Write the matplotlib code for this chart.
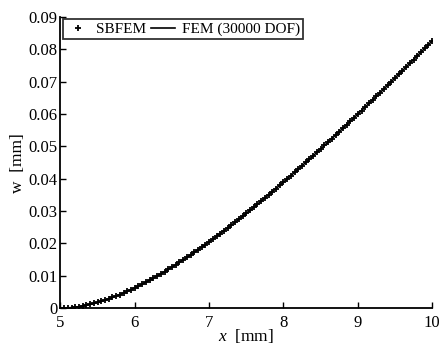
import numpy as np
import matplotlib
matplotlib.use('Agg')
import matplotlib.pyplot as plt

plt.rcParams['font.family'] = ['Liberation Serif', 'DejaVu Serif']
plt.rcParams['mathtext.fontset'] = 'custom'
plt.rcParams['mathtext.it'] = 'Liberation Serif:italic'
plt.rcParams['mathtext.rm'] = 'Liberation Serif'

# deflection w [mm] along x [mm] (step 0.05 mm)
x = np.linspace(5, 10, 101)
w = [0.00000, 0.00002, 0.00008, 0.00017, 0.00031, 0.00047, 0.00067, 0.00090, 0.00116, 0.00145,
     0.00177, 0.00211, 0.00248, 0.00288, 0.00330, 0.00374, 0.00421, 0.00469, 0.00520, 0.00573,
     0.00628, 0.00685, 0.00743, 0.00803, 0.00865, 0.00929, 0.00994, 0.01061, 0.01129, 0.01199,
     0.01270, 0.01343, 0.01416, 0.01492, 0.01568, 0.01646, 0.01724, 0.01804, 0.01885, 0.01967,
     0.02051, 0.02135, 0.02220, 0.02306, 0.02393, 0.02481, 0.02570, 0.02660, 0.02751, 0.02842,
     0.02935, 0.03028, 0.03122, 0.03216, 0.03312, 0.03408, 0.03505, 0.03602, 0.03700, 0.03799,
     0.03898, 0.03998, 0.04099, 0.04200, 0.04302, 0.04404, 0.04507, 0.04611, 0.04715, 0.04819,
     0.04924, 0.05030, 0.05136, 0.05242, 0.05349, 0.05457, 0.05564, 0.05673, 0.05781, 0.05890,
     0.06000, 0.06110, 0.06220, 0.06331, 0.06442, 0.06553, 0.06665, 0.06777, 0.06890, 0.07003,
     0.07116, 0.07230, 0.07343, 0.07458, 0.07572, 0.07687, 0.07802, 0.07917, 0.08033, 0.08149,
     0.08265]

fig = plt.figure(figsize=(4.41, 3.49), dpi=100)
ax = fig.add_axes([0.137, 0.117, 0.843, 0.834])

ax.plot(x, w, '+', color='k', markersize=5, markeredgewidth=1.3, label='SBFEM')
ax.plot(x, w, '-', color='k', linewidth=1.2, label='FEM (30000 DOF)')

ax.set_xlim(5, 10)
ax.set_ylim(0, 0.09)
ax.set_xticks([5, 6, 7, 8, 9, 10])
ax.set_yticks(np.arange(0, 0.0901, 0.01))
ax.set_yticklabels(['0', '0.01', '0.02', '0.03', '0.04', '0.05', '0.06', '0.07', '0.08', '0.09'])

ax.spines['top'].set_visible(False)
ax.spines['right'].set_visible(False)
ax.spines['left'].set_linewidth(1.3)
ax.spines['bottom'].set_linewidth(1.3)
ax.tick_params(direction='in', length=4, width=1, labelsize=12)
ax.tick_params(axis='x', pad=5)
ax.tick_params(axis='y', pad=2)

ax.set_xlabel('$x$  [mm]', fontsize=12.5, labelpad=-3)
ax.set_ylabel('w  [mm]', fontsize=12.5, labelpad=2)

leg = ax.legend(loc='upper left', ncol=2, fontsize=11, frameon=True, fancybox=False,
                borderpad=0.2, handlelength=1.6, handletextpad=0.4, columnspacing=0.3,
                borderaxespad=0.15)
leg.get_frame().set_edgecolor('k')
leg.get_frame().set_linewidth(1.3)

fig.savefig('out.png', dpi=100)
